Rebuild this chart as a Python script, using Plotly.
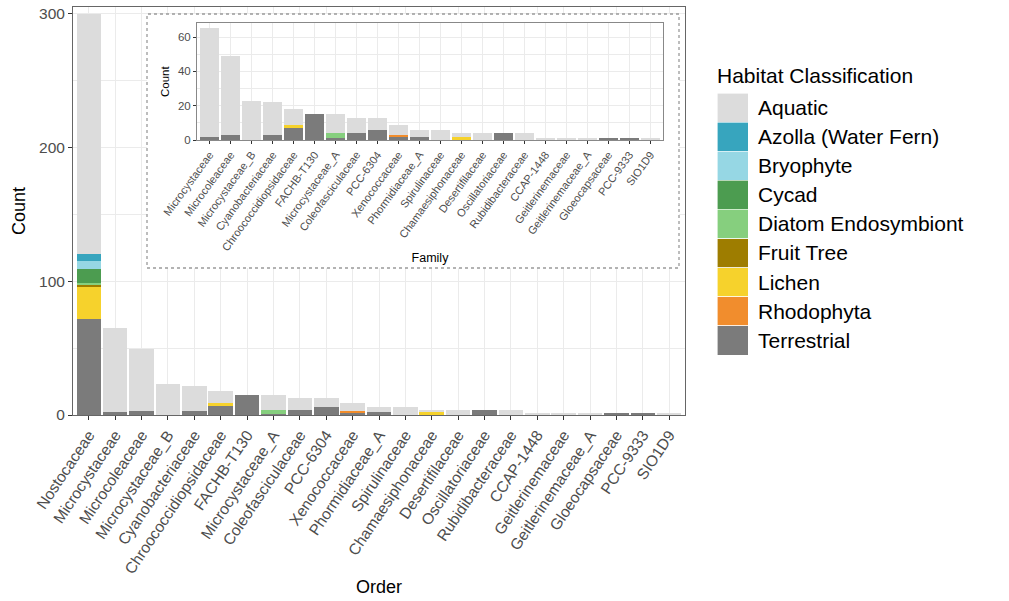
import plotly.graph_objects as go

orders = ["Nostocaceae", "Microcystaceae", "Microcoleaceae", "Microcystaceae_B",
          "Cyanobacteriaceae", "Chroococcidiopsidaceae", "FACHB-T130", "Microcystaceae_A",
          "Coleofasciculaceae", "PCC-6304", "Xenococcaceae", "Phormidiaceae_A",
          "Spirulinaceae", "Chamaesiphonaceae", "Desertifilaceae", "Oscillatoriaceae",
          "Rubidibacteraceae", "CCAP-1448", "Geitlerinemaceae", "Geitlerinemaceae_A",
          "Gloeocapsaceae", "PCC-9333", "SIO1D9"]

habitats = ["Aquatic", "Azolla (Water Fern)", "Bryophyte", "Cycad", "Diatom Endosymbiont",
            "Fruit Tree", "Lichen", "Rhodophyta", "Terrestrial"]
colors = ["#DCDCDC", "#37A5BE", "#96D7E4", "#4C9C50", "#86CF7E",
          "#9E7D00", "#F6D22C", "#F18D2D", "#7B7B7B"]

aquatic     = [180, 63, 46, 23, 19, 9, 0, 11, 9, 7, 6, 4, 6, 2, 4, 0, 4, 1, 1, 1, 0, 0, 1]
azolla      = [5, 0, 0, 0, 0, 0, 0, 0, 0, 0, 0, 0, 0, 0, 0, 0, 0, 0, 0, 0, 0, 0, 0]
bryophyte   = [6, 0, 0, 0, 0, 0, 0, 0, 0, 0, 0, 0, 0, 0, 0, 0, 0, 0, 0, 0, 0, 0, 0]
cycad       = [10, 0, 0, 0, 0, 0, 0, 0, 0, 0, 0, 0, 0, 0, 0, 0, 0, 0, 0, 0, 0, 0, 0]
diatom      = [2, 0, 0, 0, 0, 0, 0, 3, 0, 0, 0, 0, 0, 0, 0, 0, 0, 0, 0, 0, 0, 0, 0]
fruit_tree  = [1, 0, 0, 0, 0, 0, 0, 0, 0, 0, 0, 0, 0, 0, 0, 0, 0, 0, 0, 0, 0, 0, 0]
lichen      = [24, 0, 0, 0, 0, 2, 0, 0, 0, 0, 0, 0, 0, 2, 0, 0, 0, 0, 0, 0, 0, 0, 0]
rhodophyta  = [0, 0, 0, 0, 0, 0, 0, 0, 0, 0, 1, 0, 0, 0, 0, 0, 0, 0, 0, 0, 0, 0, 0]
terrestrial = [72, 2, 3, 0, 3, 7, 15, 1, 4, 6, 2, 2, 0, 0, 0, 4, 0, 0, 0, 0, 1, 1, 0]

series = [aquatic, azolla, bryophyte, cycad, diatom, fruit_tree, lichen, rhodophyta, terrestrial]

main_yticks = [0, 100, 200, 300]
inset_yticks = [0, 20, 40, 60]

FONT = "Liberation Sans, Arial, sans-serif"
W, H = 1009, 601

def px_x(p):
    return p / W

def px_y(p):
    return 1 - p / H

# main panel pixel frame
MX0, MX1, MY0, MY1 = 73, 685, 7, 415
MXR = [-0.6, 22.6]
MYR = [0, 305]

def main_x(p):
    return MXR[0] + (p - MX0) * (MXR[1] - MXR[0]) / (MX1 - MX0)

def main_y(p):
    return MYR[0] + (MY1 - p) * (MYR[1] - MYR[0]) / (MY1 - MY0)

fig = go.Figure()

# stacked bars: ggplot stacks first level on top, so add in reverse
for name, vals, col in reversed(list(zip(habitats, series, colors))):
    fig.add_trace(go.Bar(x=orders, y=vals, name=name, marker=dict(color=col, line=dict(width=0)),
                         width=0.93, xaxis="x", yaxis="y", showlegend=False))
for name, vals, col in reversed(list(zip(habitats, series, colors))):
    fig.add_trace(go.Bar(x=orders[1:], y=vals[1:], name=name, marker=dict(color=col, line=dict(width=0)),
                         width=0.93, xaxis="x2", yaxis="y2", showlegend=False))

# legend drawn as a key column
fig.add_trace(go.Bar(x=[1] * len(habitats), y=habitats, orientation="h",
                     marker=dict(color=colors, line=dict(width=0.6, color="white")),
                     width=1, xaxis="x3", yaxis="y3", showlegend=False, hoverinfo="y"))

grid = "#EBEBEB"
border = "#666666"
tickc = "#4D4D4D"

fig.update_layout(
    width=W, height=H,
    margin=dict(l=0, r=0, t=0, b=0),
    paper_bgcolor="white", plot_bgcolor="white",
    barmode="stack", bargap=0.07,
    font=dict(family=FONT, color="black"),
    xaxis=dict(domain=[px_x(MX0), px_x(MX1)], anchor="y", range=MXR,
               type="category", tickangle=-56, tickfont=dict(size=15.5, color=tickc),
               ticks="outside", ticklen=4, tickcolor="#333333",
               showgrid=True, gridcolor=grid, gridwidth=1.1,
               showline=True, linecolor=border, linewidth=1, mirror=True,
               title=dict(text="Order", font=dict(size=18), standoff=4),
               automargin=False, fixedrange=True),
    yaxis=dict(domain=[px_y(MY1), px_y(MY0)], anchor="x", range=MYR,
               tickvals=main_yticks, tickfont=dict(size=15.5, color=tickc),
               ticks="outside", ticklen=4, tickcolor="#333333",
               showgrid=True, gridcolor=grid, gridwidth=1.1, zeroline=False,
               minor=dict(dtick=50, showgrid=True, gridcolor=grid, gridwidth=0.6, ticks=""),
               showline=True, linecolor=border, linewidth=1, mirror=True,
               title=dict(text="Count", font=dict(size=18), standoff=8),
               automargin=False, fixedrange=True),
    xaxis2=dict(domain=[px_x(197), px_x(663)], anchor="y2", range=[-0.6, 21.6],
                type="category", tickangle=-54, tickfont=dict(size=11, color=tickc),
                ticks="outside", ticklen=3, tickcolor="#333333",
                showgrid=True, gridcolor=grid, gridwidth=1,
                showline=True, linecolor="#888888", linewidth=1, mirror=True,
                title=dict(text="Family", font=dict(size=12.5), standoff=1),
                automargin=False, fixedrange=True),
    yaxis2=dict(domain=[px_y(140), px_y(23.3)], anchor="x2", range=[0, 68],
                tickvals=inset_yticks, tickfont=dict(size=11.5, color=tickc),
                ticks="outside", ticklen=3, tickcolor="#333333",
                showgrid=True, gridcolor=grid, gridwidth=1, zeroline=False,
                minor=dict(dtick=10, showgrid=True, gridcolor=grid, gridwidth=0.5, ticks=""),
                showline=True, linecolor="#888888", linewidth=1, mirror=True,
                title=dict(text="Count", font=dict(size=11.5), standoff=5),
                automargin=False, fixedrange=True),
    xaxis3=dict(domain=[px_x(717), px_x(748)], anchor="y3", range=[0, 1],
                visible=False, fixedrange=True),
    yaxis3=dict(domain=[px_y(355), px_y(93)], anchor="x3", range=[8.5, -0.5],
                type="category", side="right", ticks="", showgrid=False, zeroline=False,
                showline=False, tickfont=dict(size=21, color="black"),
                ticklabelstandoff=9, automargin=False, fixedrange=True),
    shapes=[dict(type="rect", xref="x", yref="y",
                 x0=main_x(147), x1=main_x(679),
                 y0=main_y(268), y1=main_y(14),
                 fillcolor="white", line=dict(color="#9A9A9A", width=1.3, dash="dot"),
                 layer="between")],
    annotations=[dict(text="Habitat Classification", xref="paper", yref="paper",
                      x=px_x(715), y=px_y(75), xanchor="left", yanchor="middle",
                      showarrow=False, font=dict(size=21, color="black"))],
)

fig.write_html("out.html", config={"displayModeBar": False},
               post_script="document.body.style.margin='0px';document.body.style.overflow='hidden';")
